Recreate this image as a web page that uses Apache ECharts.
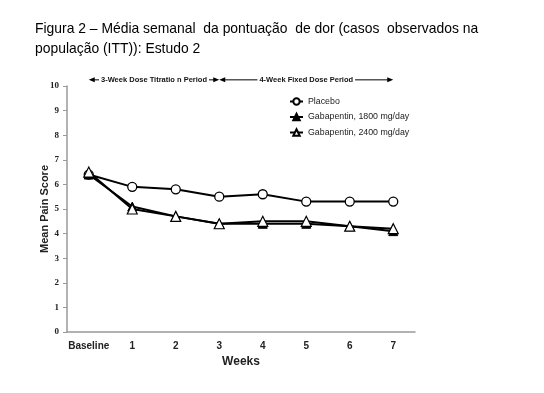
<!DOCTYPE html>
<html><head><meta charset="utf-8">
<script src="https://cdn.jsdelivr.net/npm/echarts@6/dist/echarts.min.js"></script>
<style>html,body{margin:0;padding:0;background:#fff}#c{width:544px;height:393px}</style>
</head><body><div id="c"></div>
<script>
const categories = ['Baseline','1','2','3','4','5','6','7'];
const placebo = [6.4, 5.9, 5.8, 5.5, 5.6, 5.3, 5.3, 5.3];
const gaba1800 = [6.4, 5.1, 4.7, 4.4, 4.4, 4.4, 4.3, 4.1];
const gaba2400 = [6.5, 5.0, 4.7, 4.4, 4.5, 4.5, 4.3, 4.2];
const seriesNames = ['Placebo','Gabapentin, 1800 mg/day','Gabapentin, 2400 mg/day'];
const yTicks = {min:0, max:10, interval:1};
const periods = [
  {label:'3-Week Dose Titratio n Period', from:'Baseline', to:'3'},
  {label:'4-Week Fixed Dose Period', from:'3', to:'7'}
];
const titleLines = ['Figura 2 – Média semanal  da pontuação  de dor (casos  observados na','população (ITT)): Estudo 2'];

const chart = echarts.init(document.getElementById('c'));
const lineStyle = {color:'#000', width:2};
chart.setOption({
  animation:false,
  title:{text:titleLines.join('\n'), left:35, top:19, padding:0, textStyle:{fontFamily:'Liberation Sans', fontSize:13.9, fontWeight:'normal', color:'#000', lineHeight:20}},
  grid:{left:67, right:129, top:86, bottom:61},
  legend:{orient:'vertical', left:289, top:97, padding:0, itemGap:6.5, itemWidth:13, itemHeight:8,
    textStyle:{fontFamily:'Liberation Sans', fontSize:8.8, color:'#222'}, data:seriesNames},
  xAxis:{type:'category', data:categories, boundaryGap:true,
    axisLine:{lineStyle:{color:'#999', width:1.5}}, axisTick:{show:false},
    axisLabel:{interval:0, fontFamily:'Liberation Sans', fontWeight:'bold', fontSize:10, color:'#222', margin:9},
    name:'Weeks', nameLocation:'middle', nameGap:24,
    nameTextStyle:{fontFamily:'Liberation Sans', fontWeight:'bold', fontSize:12, color:'#222'}},
  yAxis:{type:'value', min:yTicks.min, max:yTicks.max, interval:yTicks.interval,
    axisLine:{show:true, lineStyle:{color:'#999', width:1.5}},
    axisTick:{show:true, length:4, lineStyle:{color:'#999'}},
    splitLine:{show:false},
    axisLabel:{fontFamily:'Liberation Serif', fontWeight:'bold', fontSize:9, color:'#222', margin:8},
    name:'Mean Pain Score', nameLocation:'middle', nameGap:17, nameMoveOverlap:false,
    nameTextStyle:{fontFamily:'Liberation Sans', fontWeight:'bold', fontSize:11, color:'#222'}},
  series:[
    {name:seriesNames[0], type:'line', data:placebo, symbol:'circle', symbolSize:9,
      lineStyle:lineStyle, itemStyle:{color:'#fff', borderColor:'#000', borderWidth:1.3}},
    {name:seriesNames[1], type:'line', data:gaba1800, symbol:'triangle', symbolSize:9,
      lineStyle:lineStyle, itemStyle:{color:'#000', borderColor:'#000', borderWidth:1}},
    {name:seriesNames[2], type:'line', data:gaba2400, symbol:'triangle', symbolSize:10,
      lineStyle:lineStyle, itemStyle:{color:'#fff', borderColor:'#000', borderWidth:1.2}}
  ]
});

// period annotations positioned through the axes
const annFont = 'bold 7.5px "Liberation Sans"';
const ctx = document.createElement('canvas').getContext('2d');
ctx.font = annFont;
const yAnn = 10.25;
const els = [];
periods.forEach(p => {
  const a = chart.convertToPixel({gridIndex:0}, [p.from, yAnn]);
  const b = chart.convertToPixel({gridIndex:0}, [p.to, yAnn]);
  const y = a[1];
  const mid = (a[0]+b[0])/2;
  const halfText = ctx.measureText(p.label).width/2 + 2;
  const ah = 5;
  els.push({type:'line', shape:{x1:a[0]+ah, y1:y, x2:mid-halfText, y2:y}, style:{stroke:'#000', lineWidth:1}});
  els.push({type:'line', shape:{x1:mid+halfText, y1:y, x2:b[0]-ah, y2:y}, style:{stroke:'#000', lineWidth:1}});
  els.push({type:'polygon', shape:{points:[[a[0],y],[a[0]+ah+1,y-2.5],[a[0]+ah+1,y+2.5]]}, style:{fill:'#000'}});
  els.push({type:'polygon', shape:{points:[[b[0],y],[b[0]-ah-1,y-2.5],[b[0]-ah-1,y+2.5]]}, style:{fill:'#000'}});
  els.push({type:'text', x:mid, y:y, style:{text:p.label, align:'center', verticalAlign:'middle',
    font:annFont, fill:'#111'}});
});
chart.setOption({graphic:els});
</script>
</body></html>
